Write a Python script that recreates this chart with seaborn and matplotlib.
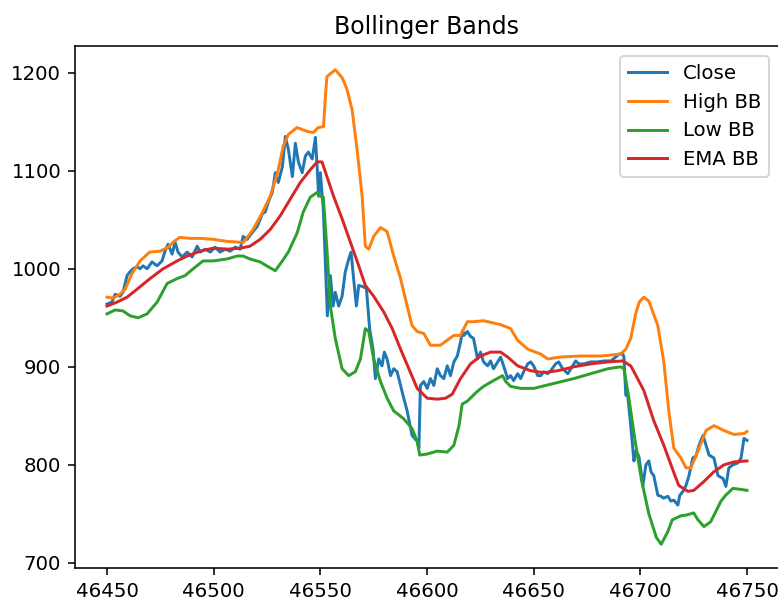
import matplotlib.pyplot as plt
import pandas as pd
import seaborn as sns
from matplotlib import rcParams


# Set matplotlib runtime configuration
DPI = 142
rcParams["figure.figsize"] = (778 / DPI, 602 / DPI)
rcParams["figure.dpi"] = DPI


# Values
close_x = [
    46450, 46452.3, 46453.8, 46456.1, 46457.5, 46459.4, 46460.8, 46462.2, 46464.1, 46465.5,
    46466.9, 46468.8, 46471.1, 46473.5, 46475.8, 46477.2, 46478.6, 46480.5, 46481.9, 46483.3,
    46485.2, 46487.6, 46489.9, 46492.3, 46493.7, 46496, 46498.4, 46500.7, 46503, 46505.4,
    46507.7, 46510.1, 46512.4, 46513.8, 46515.7, 46518.1, 46520.4, 46522.8, 46524.2, 46525.6,
    46527.5, 46528.9, 46530.3, 46532.2, 46533.6, 46535, 46536.9, 46538.3, 46539.7, 46541.5,
    46543, 46544.4, 46546.2, 46547.7, 46548.5, 46549.2, 46550, 46551.4, 46553.3, 46554.7,
    46556, 46557, 46558.6, 46560.2, 46561.7, 46563.3, 46564.4, 46565.6, 46566.9, 46568,
    46569.6, 46571.6, 46573.1, 46574.7, 46575.8, 46577.4, 46578.9, 46580, 46581.3, 46582.9,
    46584.4, 46586, 46587.6, 46589.1, 46590.7, 46593, 46595.4, 46596.2, 46596.9, 46598.5,
    46600.1, 46601.6, 46603.2, 46604.8, 46606.3, 46607.9, 46609.5, 46611, 46612.6, 46614.2,
    46615.7, 46616.7, 46617.3, 46618.9, 46620.4, 46621.8, 46623.7, 46625.1, 46626.5, 46628.4,
    46629.8, 46631.2, 46633.1, 46634.5, 46635.9, 46637.8, 46639.2, 46640.6, 46642.5, 46643.9,
    46645.3, 46647.2, 46648.6, 46650, 46651.9, 46653.3, 46654.7, 46656.6, 46658, 46660.3,
    46661.7, 46663.6, 46666, 46668.3, 46669.7, 46671.1, 46673.5, 46676.8, 46680, 46682.9,
    46686.2, 46688.5, 46690, 46691.8, 46692.3, 46693.2, 46694.1, 46695.5, 46697, 46697.9,
    46699.3, 46701.2, 46702.6, 46704, 46705, 46706.3, 46708.2, 46709.6, 46711, 46712.9,
    46714.3, 46715.7, 46717.6, 46718.5, 46720, 46721.4, 46722.8, 46724.6, 46726.1, 46727.5,
    46729.4, 46730.8, 46732.2, 46734.5, 46736.4, 46738.8, 46740.1, 46741.5, 46743.4, 46745.8,
    46747.2, 46748.6, 46750,
]
close = [
    964, 966, 974, 972, 976, 993, 997, 1000, 1002, 1000,
    1003, 1000, 1007, 1003, 1008, 1018, 1025, 1015, 1027, 1017,
    1012, 1017, 1012, 1023, 1017, 1020, 1017, 1022, 1017, 1020,
    1018, 1022, 1020, 1033, 1030, 1037, 1043, 1056, 1058, 1068,
    1078, 1098, 1088, 1104, 1135, 1122, 1094, 1128, 1109, 1098,
    1115, 1119, 1112, 1134, 1104, 1074, 1098, 1061, 952, 993,
    962, 976, 962, 972, 997, 1010, 1017, 990, 962, 983,
    982, 980, 939, 918, 888, 908, 901, 915, 908, 891,
    898, 895, 881, 868, 855, 830, 824, 817, 881, 885,
    878, 888, 881, 898, 891, 888, 901, 891, 905, 911,
    925, 937, 932, 936, 931, 929, 908, 915, 905, 901,
    906, 898, 905, 910, 901, 888, 891, 886, 893, 888,
    895, 903, 905, 901, 891, 891, 895, 893, 896, 903,
    905, 898, 893, 901, 906, 903, 903, 905, 905, 906,
    906, 910, 913, 913, 910, 871, 871, 840, 804, 814,
    809, 779, 800, 804, 793, 789, 769, 768, 766, 768,
    763, 764, 759, 769, 773, 779, 789, 807, 809, 820,
    830, 820, 810, 807, 789, 786, 778, 797, 800, 802,
    807, 827, 825,
]

high_x = [
    46450, 46453, 46456, 46458.5, 46461.7, 46465.5, 46470, 46475, 46478.6, 46481,
    46484, 46489, 46493.7, 46499.8, 46506, 46512.4, 46514, 46518.5, 46523, 46526.5,
    46530, 46532.6, 46535, 46539, 46544, 46546.7, 46549, 46551.5, 46552.5, 46553.1,
    46557, 46560.2, 46562.5, 46564.9, 46567.2, 46569.6, 46571.1, 46572.7, 46575, 46578.2,
    46581.3, 46584.4, 46587.6, 46590.7, 46593, 46595.4, 46598.5, 46601.6, 46606.3, 46609.4,
    46612.6, 46615.7, 46618.9, 46621.8, 46626.5, 46634.5, 46639.2, 46642.5, 46647.2, 46653.3,
    46656.6, 46662.7, 46672, 46681.5, 46690.8, 46693.2, 46695.5, 46697.9, 46699.5, 46701.6,
    46704, 46708.2, 46711, 46713.4, 46715.7, 46719, 46721.4, 46723.7, 46727, 46730.8,
    46734.5, 46739.2, 46743.9, 46748.6, 46750,
]
high_bb = [
    971, 970, 974, 979, 995, 1008, 1017, 1018, 1022, 1027,
    1032, 1031, 1031, 1030, 1028, 1027, 1027, 1040, 1058, 1074,
    1098, 1125, 1137, 1144, 1140, 1139, 1144, 1145, 1180, 1196,
    1203, 1195, 1183, 1162, 1122, 1074, 1023, 1020, 1033, 1042,
    1038, 1013, 990, 962, 942, 936, 934, 922, 922, 927,
    932, 932, 946, 946, 947, 943, 939, 927, 918, 913,
    908, 910, 911, 911, 913, 918, 929, 955, 966, 971,
    967, 942, 905, 854, 817, 807, 797, 797, 814, 835,
    840, 835, 831, 832, 834,
]

low_x = [
    46450, 46453.8, 46457.5, 46460.8, 46464.6, 46468.8, 46473.5, 46478.2, 46482.9, 46486.6,
    46490.4, 46495, 46499.8, 46506.3, 46511, 46513.8, 46517, 46521.8, 46525.6, 46528.9,
    46532.2, 46535, 46539.2, 46542, 46545.3, 46548.6, 46550, 46551.4, 46553.1, 46554.7,
    46557, 46560.2, 46563.3, 46566.4, 46568.8, 46571.1, 46572.7, 46575, 46578.2, 46581.3,
    46584.4, 46589.1, 46593, 46595.4, 46596.6, 46600, 46604.8, 46609.5, 46612.6, 46615,
    46616.5, 46618.9, 46623.6, 46626.5, 46631.2, 46635.4, 46636.9, 46639.2, 46643.9, 46650,
    46659.4, 46668.8, 46676.8, 46684.7, 46690.8, 46692.3, 46694.5, 46697.5, 46700.5, 46704,
    46707.5, 46709.8, 46712.9, 46715, 46719, 46722, 46725, 46727, 46729.8, 46733,
    46737.8, 46740, 46743.4, 46747, 46750,
]
low_bb = [
    954, 958, 957, 952, 950, 954, 966, 985, 990, 993,
    1000, 1008, 1008, 1010, 1013, 1013, 1010, 1007, 1002, 998,
    1008, 1017, 1037, 1058, 1073, 1078, 1074, 1073, 1020, 962,
    929, 898, 891, 895, 908, 939, 936, 908, 885, 868,
    855, 847, 837, 824, 810, 811, 814, 813, 820, 840,
    862, 865, 875, 880, 886, 891, 885, 880, 878, 878,
    883, 888, 893, 898, 900, 898, 870, 825, 785, 750,
    726, 719, 732, 744, 748, 749, 751, 744, 737, 742,
    763, 769, 776, 775, 774,
]

ema_x = [
    46450, 46454.7, 46459.4, 46464, 46470.2, 46476.3, 46482.9, 46487.6, 46493.7, 46499.8,
    46506.3, 46512.4, 46517, 46521.8, 46526.5, 46531.2, 46535.9, 46540.6, 46545.3, 46548.5,
    46550.8, 46553.1, 46556.2, 46560.2, 46564.1, 46568, 46571.1, 46575, 46579.7, 46583.7,
    46587.6, 46591.5, 46595.4, 46600.1, 46604.8, 46608.7, 46611.8, 46615.7, 46620.4, 46625.1,
    46629.8, 46634.5, 46637.8, 46642.5, 46648.6, 46654.7, 46661.3, 46668.8, 46676.8, 46684.7,
    46691.8, 46695.5, 46697, 46701.6, 46706.3, 46711, 46715.2, 46718, 46722.3, 46725.1,
    46729.8, 46734.5, 46739.2, 46743.9, 46750,
]
ema_bb = [
    962, 966, 971, 979, 990, 1000, 1008, 1013, 1018, 1021,
    1020, 1021, 1023, 1030, 1040, 1054, 1071, 1088, 1101, 1109,
    1109, 1094, 1074, 1051, 1027, 1003, 983, 972, 956, 939,
    918, 898, 878, 868, 867, 868, 872, 888, 903, 911,
    915, 915, 910, 901, 896, 894, 896, 900, 903, 905,
    906, 901, 895, 876, 845, 820, 795, 779, 773, 774,
    783, 793, 800, 803, 804,
]


def main():
    fig = plt.figure()
    # axes placed in pixels: left 75, bottom 34, width reaching the right edge
    ax = fig.add_axes([75 / 778, 34 / 602, 704 / 778, 522 / 602])

    series = [
        ("Close", close_x, close),
        ("High BB", high_x, high_bb),
        ("Low BB", low_x, low_bb),
        ("EMA BB", ema_x, ema_bb),
    ]
    for i, (name, xs, ys) in enumerate(series):
        df = pd.DataFrame({"x": xs, "y": ys})
        sns.lineplot(data=df, x="x", y="y", ax=ax, color=f"C{i}", lw=1.5, label=name)

    ax.set_xlabel("")
    ax.set_ylabel("")
    ax.set_xticks([46450, 46500, 46550, 46600, 46650, 46700, 46750])
    ax.set_title("Bollinger Bands")
    ax.legend(loc="upper right")

    fig.savefig("out.png", dpi=DPI)
    plt.close("all")


if __name__ == "__main__":
    main()
